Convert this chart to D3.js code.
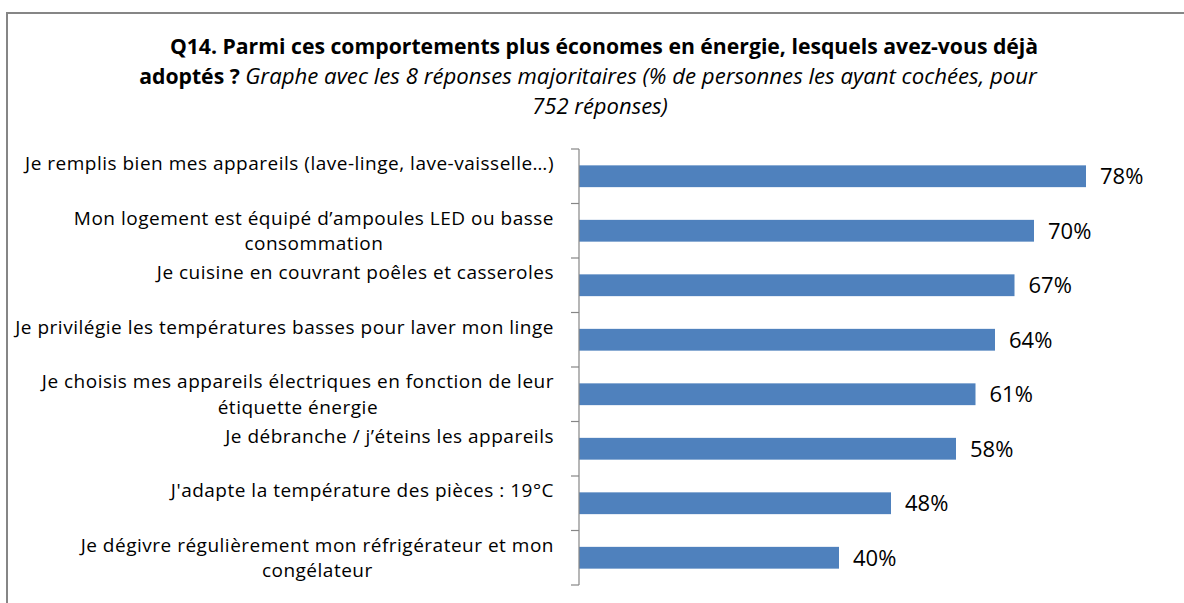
<!DOCTYPE html>
<html>
<head>
<meta charset="utf-8">
<script src="https://cdn.jsdelivr.net/npm/d3@7"></script>
<style>
  body { margin: 0; background: #fff; }
  text { font-family: 'Open Sans', sans-serif; fill: #000; }
</style>
</head>
<body>
<div id="chart"></div>
<script>
const categories = [
  ['Je remplis bien mes appareils (lave-linge, lave-vaisselle…)'],
  ['Mon logement est équipé d’ampoules LED ou basse', 'consommation'],
  ['Je cuisine en couvrant poêles et casseroles'],
  ['Je privilégie les températures basses pour laver mon linge'],
  ['Je choisis mes appareils électriques en fonction de leur', 'étiquette énergie'],
  ['Je débranche / j’éteins les appareils'],
  ['J\'adapte la température des pièces : 19°C'],
  ['Je dégivre régulièrement mon réfrigérateur et mon', 'congélateur']
]

const values = [78, 70, 67, 64, 61, 58, 48, 40]

const width = 1184
const height = 603

const svg = d3
  .select('#chart')
  .append('svg')
  .attr('width', width)
  .attr('height', height)

// chart frame
svg
  .append('rect')
  .attr('x', 7)
  .attr('y', 13)
  .attr('width', 1200)
  .attr('height', 620)
  .attr('fill', 'none')
  .attr('stroke', '#868686')
  .attr('stroke-width', 2)

// title
const title = svg
  .append('text')
  .attr('text-anchor', 'middle')
  .attr('font-size', 21.2)

title
  .append('tspan')
  .attr('x', 604)
  .attr('y', 54)
  .attr('font-weight', 700)
  .text('Q14. Parmi ces comportements plus économes en énergie, lesquels avez-vous déjà')

const line2 = title.append('tspan').attr('x', 588).attr('y', 84)
line2.append('tspan').attr('font-weight', 700).text('adoptés ? ')
line2
  .append('tspan')
  .attr('font-style', 'italic')
  .attr('font-size', 22.2)
  .text('Graphe avec les 8 réponses majoritaires (% de personnes les ayant cochées, pour')

title
  .append('tspan')
  .attr('x', 600)
  .attr('y', 114)
  .attr('font-style', 'italic')
  .attr('font-size', 22)
  .text('752 réponses)')

const xScale = d3
  .scaleLinear()
  .domain([0, 90])
  .range([579, 1164])

const yScale = d3
  .scaleBand()
  .domain(d3.range(values.length))
  .range([149, 585])
  .paddingInner(0.6)
  .paddingOuter(0.3)

svg
  .selectAll('.bar')
  .data(values)
  .enter()
  .append('rect')
  .attr('class', 'bar')
  .attr('x', xScale(0))
  .attr('y', (d, i) => yScale(i))
  .attr('width', d => xScale(d) - xScale(0))
  .attr('height', yScale.bandwidth())
  .attr('fill', '#4F81BD')

svg
  .selectAll('.value')
  .data(values)
  .enter()
  .append('text')
  .attr('class', 'value')
  .attr('x', d => xScale(d) + 14)
  .attr('y', (d, i) => yScale(i) + yScale.bandwidth() / 2)
  .attr('dy', '0.36em')
  .attr('font-size', 22)
  .attr('fill', '#000')
  .text(d => d + '%')

// axis
const ticks = d3.range(values.length + 1).map(i => 149 + i * (436 / values.length))

svg
  .append('line')
  .attr('x1', 579)
  .attr('x2', 579)
  .attr('y1', 149)
  .attr('y2', 585)
  .attr('stroke', '#868686')
  .attr('stroke-width', 1.2)

svg
  .selectAll('.tick')
  .data(ticks)
  .enter()
  .append('line')
  .attr('class', 'tick')
  .attr('x1', 571)
  .attr('x2', 579)
  .attr('y1', d => d)
  .attr('y2', d => d)
  .attr('stroke', '#868686')
  .attr('stroke-width', 1.2)

// category labels: block right-aligned, lines centred in the block
const labels = svg
  .selectAll('.cat')
  .data(categories)
  .enter()
  .append('g')
  .attr('class', 'cat')

labels.each(function(lines, i) {
  const g = d3.select(this)
  const cy = yScale(i) + yScale.bandwidth() / 2
  const t = g
    .append('text')
    .attr('font-size', 19)
    .attr('letter-spacing', 0.5)
    .attr('text-anchor', 'middle')
  lines.forEach((l, j) => {
    t.append('tspan')
      .attr('y', cy - 12.75 + j * 25.5)
      .attr('dy', '0.36em')
      .text(l)
  })
  const tspans = t.selectAll('tspan').nodes()
  const maxW = d3.max(tspans, n => n.getComputedTextLength())
  const centre = 554 - maxW / 2
  t.selectAll('tspan').attr('x', centre)
})
</script>
</body>
</html>
